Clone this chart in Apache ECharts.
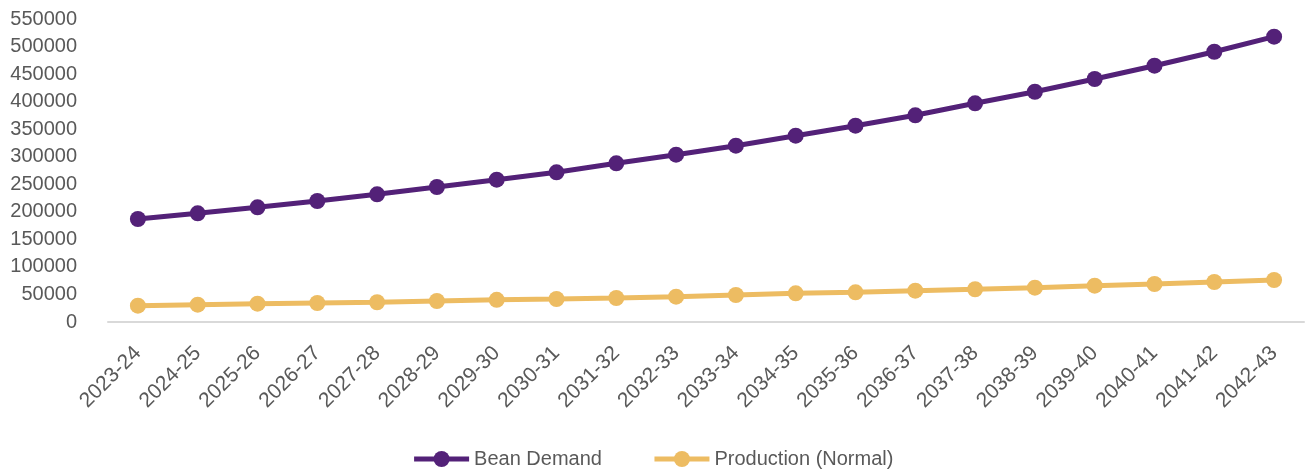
<!DOCTYPE html>
<html>
<head>
<meta charset="utf-8">
<script src="https://cdn.jsdelivr.net/npm/echarts@6/dist/echarts.min.js"></script>
<style>
html,body{margin:0;padding:0;background:#fff;}
#c{width:1305px;height:471px;}
</style>
</head>
<body>
<div id="c"></div>
<script>
const categories = ["2023-24","2024-25","2025-26","2026-27","2027-28","2028-29","2029-30","2030-31","2031-32","2032-33","2033-34","2034-35","2035-36","2036-37","2037-38","2038-39","2039-40","2040-41","2041-42","2042-43"];
const beanDemand = [187000,197300,208200,219600,231800,245000,258300,271700,288100,303700,320000,338200,356300,375200,397000,418000,441100,465200,490600,517900];
const production = [29600,31400,33200,34500,35800,38100,40200,41700,43600,45900,49000,52100,53900,56800,59400,62300,65900,69000,72600,76200];
const yMin = 0, yMax = 550000, yInterval = 50000;

const chart = echarts.init(document.getElementById('c'));
const font = 'Liberation Sans, Arial, sans-serif';
chart.setOption({
  animation: false,
  grid: {left: 108, right: 1, top: 19, bottom: 149, containLabel: false},
  legend: {
    top: 444,
    left: 'center',
    itemWidth: 55,
    itemHeight: 20,
    itemGap: 50,
    lineStyle: {width: 5},
    textStyle: {color: '#595959', fontSize: 20, fontFamily: font},
    data: ['Bean Demand', 'Production (Normal)']
  },
  xAxis: {
    type: 'category',
    data: categories,
    boundaryGap: true,
    axisLine: {lineStyle: {color: '#D9D9D9', width: 2}},
    axisTick: {show: false},
    axisLabel: {rotate: 45, color: '#595959', fontSize: 21, fontFamily: font, margin: 28, interval: 0}
  },
  yAxis: {
    type: 'value',
    min: yMin, max: yMax, interval: yInterval,
    axisLine: {show: false},
    axisTick: {show: false},
    splitLine: {show: false},
    axisLabel: {color: '#595959', fontSize: 20, fontFamily: font, margin: 31,
      formatter: function (v) { return String(v); }}
  },
  series: [
    {
      name: 'Bean Demand', type: 'line', data: beanDemand,
      symbol: 'circle', symbolSize: 16,
      lineStyle: {color: '#532178', width: 5},
      itemStyle: {color: '#532178'}
    },
    {
      name: 'Production (Normal)', type: 'line', data: production,
      symbol: 'circle', symbolSize: 16,
      lineStyle: {color: '#EDBC62', width: 5},
      itemStyle: {color: '#EDBC62'}
    }
  ]
});
</script>
</body>
</html>
